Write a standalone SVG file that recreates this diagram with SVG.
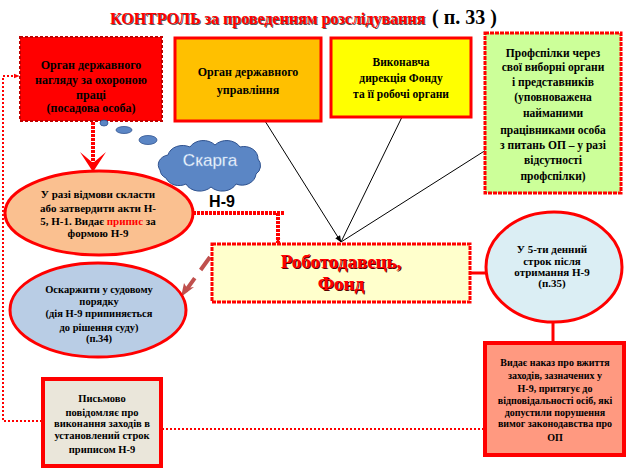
<svg xmlns="http://www.w3.org/2000/svg" width="628" height="470" viewBox="0 0 628 470">
<defs>
<style>
.t{font-family:"Liberation Serif","Times New Roman","DejaVu Serif",serif;font-weight:bold;fill:#000;text-anchor:middle}
.ser{font-family:"Liberation Serif","Times New Roman","DejaVu Serif",serif;font-weight:bold}
.box{stroke:#FF0000;stroke-width:3}
.red{stroke:#FF0000;fill:none}
</style>
<marker id="ah" viewBox="0 0 10 10" refX="9" refY="5" markerWidth="6" markerHeight="6" orient="auto" markerUnits="userSpaceOnUse"><path d="M0,1 L10,5 L0,9 z" fill="#FF0000"/></marker>
<marker id="ahb" viewBox="0 0 10 10" refX="9" refY="5" markerWidth="7" markerHeight="7" orient="auto" markerUnits="userSpaceOnUse"><path d="M0,1 L10,5 L0,9 z" fill="#000"/></marker>
</defs>
<rect width="628" height="470" fill="#fff"/>

<g id="title">
<text x="111" y="25" class="ser" font-size="16" fill="#555">КОНТРОЛЬ за проведенням розслідування</text>
<text x="110" y="24" class="ser" font-size="16" fill="#FF0000">КОНТРОЛЬ за проведенням розслідування</text>
<text x="432" y="24" class="ser" font-size="20" fill="#000">( п. 33 )</text>
</g>

<g id="connectors">
<line x1="265" y1="121" x2="341" y2="242" stroke="#000" stroke-width="1" marker-end="url(#ahb)"/>
<line x1="402" y1="117" x2="341" y2="242" stroke="#000" stroke-width="1"/>
<line x1="486" y1="150" x2="341" y2="242" stroke="#000" stroke-width="1"/>
<line x1="93" y1="122" x2="93" y2="170" stroke="#FF0000" stroke-width="4" stroke-dasharray="3 1"/>
<path d="M80,152 L93,172 L106,152 L93,163 z" fill="#FF0000"/>
<polyline points="193,213 285,213" class="red" stroke-width="4" stroke-dasharray="3 1"/>
<line x1="278" y1="213" x2="278" y2="243" class="red" stroke-width="4" stroke-dasharray="3 1" marker-end="url(#ah)"/>
<line x1="210" y1="257" x2="184" y2="293" stroke="#C0504D" stroke-width="4" stroke-dasharray="16 10"/>
<path d="M181,297 L184,283 L187,288 L194,287 z" fill="#C0504D"/>
<line x1="470" y1="273" x2="487" y2="273" class="red" stroke-width="3"/>
<line x1="553" y1="322" x2="553" y2="342" class="red" stroke-width="3"/>
<line x1="162" y1="429" x2="484" y2="429" class="red" stroke-width="2" stroke-dasharray="2 2"/>
<polyline points="42,421 3,421 3,76 19,76" class="red" stroke-width="2" stroke-dasharray="2 2" marker-end="url(#ah)"/>
</g>

<g id="n1">
<rect x="20" y="37" width="142" height="84" fill="#FF0000" stroke="#C00000" stroke-width="2" stroke-dasharray="3 2"/>
<text class="t" font-size="12"><tspan x="91" y="69">Орган державного</tspan><tspan x="91" y="84">нагляду за охороною</tspan><tspan x="91" y="99">праці</tspan><tspan x="91" y="112">(посадова особа)</tspan></text>
</g>

<g id="n2">
<rect x="175" y="38" width="146" height="83" fill="#FFC000" class="box"/>
<text class="t" font-size="12"><tspan x="248" y="76">Орган  державного</tspan><tspan x="248" y="94">управління</tspan></text>
</g>

<g id="n3">
<rect x="331" y="38" width="140" height="79" fill="#FFFF00" class="box"/>
<text class="t" font-size="11.5"><tspan x="401" y="66">Виконавча</tspan><tspan x="401" y="82">дирекція  Фонду</tspan><tspan x="401" y="98">та її робочі  органи</tspan></text>
</g>

<g id="n4">
<rect x="485" y="33" width="136" height="160" fill="#CCFF99" stroke="#FF0000" stroke-width="3" stroke-dasharray="4 1"/>
<text class="t" font-size="11.5"><tspan x="553" y="57">Профспілки  через</tspan><tspan x="553" y="71">свої виборні  органи</tspan><tspan x="553" y="86">і представників</tspan><tspan x="553" y="101">(уповноважена</tspan><tspan x="553" y="117">найманими</tspan><tspan x="553" y="134">працівниками  особа</tspan><tspan x="553" y="149">з питань  ОП – у разі</tspan><tspan x="553" y="164">відсутності</tspan><tspan x="553" y="180">профспілки)</tspan></text>
</g>

<g id="cloud">
<ellipse cx="104" cy="123" rx="4" ry="3" fill="#5B86C5" stroke="#2F528F" stroke-width="0.8"/>
<ellipse cx="124" cy="130" rx="8" ry="3.5" fill="#5B86C5" stroke="#2F528F" stroke-width="0.8"/>
<ellipse cx="148" cy="140" rx="9" ry="4.5" fill="#5B86C5" stroke="#2F528F" stroke-width="0.8"/>
<path d="M160,170 a12,10 0 0,1 8,-15 a15,12 0 0,1 22,-8 a15,12 0 0,1 25,-2 a15,12 0 0,1 25,2 a14,12 0 0,1 18,12 a10,10 0 0,1 -2,15 a14,12 0 0,1 -20,10 a15,12 0 0,1 -25,3 a15,12 0 0,1 -25,-3 a14,12 0 0,1 -20,-6 a10,10 0 0,1 -6,-8 z" fill="#5B86C5" stroke="#2F528F" stroke-width="1"/>
<text x="210" y="166" font-family="Liberation Sans,Arial,sans-serif" font-size="17" fill="#fff" stroke="#8EB4E3" stroke-width="0.4" text-anchor="middle">Скарга</text>
</g>

<g id="n5">
<ellipse cx="99" cy="213" rx="94" ry="42" fill="#FAC090" stroke="#FF0000" stroke-width="3"/>
<text class="t" font-size="11"><tspan x="98" y="198">У разі відмови скласти</tspan><tspan x="98" y="212">або затвердити акти Н-</tspan><tspan x="98" y="225">5, Н-1. Видає <tspan fill="#FF0000">припис</tspan>  за</tspan><tspan x="98" y="237">формою Н-9</tspan></text>
</g>

<text id="lbl" x="222" y="207" font-family="Liberation Sans,Arial,sans-serif" font-weight="bold" font-size="16" fill="#000" text-anchor="middle">Н-9</text>

<g id="n6">
<rect x="212" y="244" width="258" height="58" fill="#FFFFCC" stroke="#FF0000" stroke-width="3" stroke-dasharray="4 1"/>
<text class="t" font-size="19" style="fill:#500"><tspan x="342" y="269">Роботодавець,</tspan><tspan x="342" y="291">Фонд</tspan></text>
<text class="t" font-size="19" style="fill:#FF0000"><tspan x="341" y="268">Роботодавець,</tspan><tspan x="341" y="290">Фонд</tspan></text>
</g>

<g id="n7">
<ellipse cx="98" cy="310" rx="88" ry="47" fill="#B9CDE5" stroke="#FF0000" stroke-width="3"/>
<text class="t" font-size="10.5"><tspan x="99" y="293">Оскаржити у судовому</tspan><tspan x="99" y="305">порядку</tspan><tspan x="99" y="317">(дія Н-9 припиняється</tspan><tspan x="99" y="331">до рішення суду)</tspan><tspan x="99" y="342">(п.34)</tspan></text>
</g>

<g id="n8">
<ellipse cx="554" cy="267" rx="68" ry="55" fill="#DBEEF4" stroke="#FF0000" stroke-width="3"/>
<text class="t" font-size="11"><tspan x="552" y="253">У 5-ти денний</tspan><tspan x="552" y="265">строк після</tspan><tspan x="552" y="276">отримання Н-9</tspan><tspan x="552" y="287">(п.35)</tspan></text>
</g>

<g id="n9">
<rect x="485" y="343" width="139" height="112" fill="#FF9980" stroke="#FF0000" stroke-width="4"/>
<text class="t" font-size="10"><tspan x="555" y="366">Видає наказ про вжиття</tspan><tspan x="555" y="379">заходів, зазначених у</tspan><tspan x="555" y="392">Н-9, притягує до</tspan><tspan x="555" y="404">відповідальності осіб, які</tspan><tspan x="555" y="416">допустили порушення</tspan><tspan x="555" y="427">вимог законодавства про</tspan><tspan x="555" y="441">ОП</tspan></text>
</g>

<g id="n10">
<rect x="43" y="379" width="118" height="87" fill="#EAE6DA" stroke="#FF0000" stroke-width="4"/>
<text class="t" font-size="10.5"><tspan x="102" y="402">Письмово</tspan><tspan x="102" y="416">повідомляє про</tspan><tspan x="102" y="427">виконання заходів в</tspan><tspan x="102" y="439">установлений строк</tspan><tspan x="102" y="453">приписом Н-9</tspan></text>
</g>
</svg>
